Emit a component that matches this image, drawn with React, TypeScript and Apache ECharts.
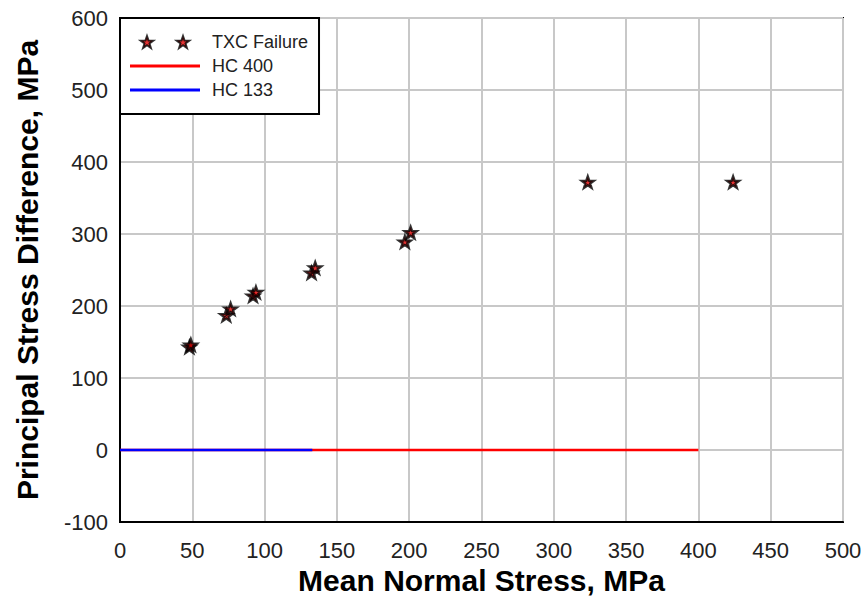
import React, { useEffect, useRef } from "react";
import * as echarts from "echarts";

const txcX = [48, 49, 73.5, 76.5, 92, 94, 132.5, 135, 197, 201, 323.5, 424];
const txcY = [143, 146, 187, 196, 214, 219, 246, 253, 289, 302, 372, 372];
const hc400X = [0, 400];
const hc400Y = [0, 0];
const hc133X = [0, 133];
const hc133Y = [0, 0];
const xTicks = { min: 0, max: 500, interval: 50 };
const yTicks = { min: -100, max: 600, interval: 100 };

const STAR =
  "M10,0 L12.35,6.76 L19.51,6.91 L13.8,11.24 L15.88,18.09 L10,14 L4.12,18.09 L6.2,11.24 L0.49,6.91 L7.65,6.76 Z";
const STAR2 =
  STAR +
  " M64.3,0 L66.65,6.76 L73.81,6.91 L68.1,11.24 L70.18,18.09 L64.3,14 L58.42,18.09 L60.5,11.24 L54.79,6.91 L61.95,6.76 Z";
const BAR = "path://M0,0 L70,0 L70,3 L0,3 Z";

export default function App() {
  const ref = useRef<HTMLDivElement>(null);
  useEffect(() => {
    if (!ref.current) return;
    const chart = echarts.init(ref.current, null, { renderer: "svg" });
    const font = "'Liberation Sans', Arial, sans-serif";
    chart.setOption({
      animation: false,
      backgroundColor: "#ffffff",
      textStyle: { fontFamily: font },
      grid: {
        left: 120,
        right: 22,
        top: 18,
        bottom: 74,
        containLabel: false,
        outerBoundsMode: "none",
        show: true,
        borderColor: "#000",
        borderWidth: 2,
        backgroundColor: "transparent",
      },
      legend: {
        left: 120,
        top: 18,
        orient: "vertical",
        backgroundColor: "#fff",
        borderColor: "#000",
        borderWidth: 2,
        padding: [15, 11, 15, 10],
        itemWidth: 70,
        itemHeight: 12,
        itemGap: 6,
        textStyle: { fontSize: 18, color: "#222", fontFamily: font, padding: [0, 0, 0, 7] },
        data: [
          { name: "TXC Failure", icon: "path://" + STAR2 },
          { name: "HC 400", icon: BAR, itemStyle: { color: "#ff0000", borderWidth: 0 } },
          { name: "HC 133", icon: BAR, itemStyle: { color: "#0000ff", borderWidth: 0 } },
        ],
      },
      xAxis: {
        type: "value",
        min: xTicks.min,
        max: xTicks.max,
        interval: xTicks.interval,
        name: "Mean Normal Stress, MPa",
        nameLocation: "middle",
        nameGap: 43,
        nameTextStyle: { fontSize: 30, lineHeight: 30, fontWeight: "bold", color: "#000", fontFamily: font },
        axisLine: { show: true, onZero: false, lineStyle: { color: "#000", width: 2 } },
        axisTick: { show: false },
        axisLabel: { fontSize: 22, color: "#222", margin: 17, fontFamily: font },
        splitLine: { show: true, lineStyle: { color: "#c8c8c8", width: 2 } },
      },
      yAxis: {
        type: "value",
        min: yTicks.min,
        max: yTicks.max,
        interval: yTicks.interval,
        name: "Principal Stress Difference, MPa",
        nameLocation: "middle",
        nameGap: 78,
        nameTextStyle: { fontSize: 30, lineHeight: 30, fontWeight: "bold", color: "#000", fontFamily: font },
        axisLine: { show: true, onZero: false, lineStyle: { color: "#000", width: 2 } },
        axisTick: { show: false },
        axisLabel: { fontSize: 22, color: "#222", margin: 12, fontFamily: font },
        splitLine: { show: true, lineStyle: { color: "#c8c8c8", width: 2 } },
      },
      series: [
        {
          name: "TXC Failure",
          type: "scatter",
          symbol: "path://" + STAR,
          symbolSize: 12,
          symbolKeepAspect: true,
          itemStyle: { color: "#e00000", borderColor: "#000", borderWidth: 2.4 },
          data: txcX.map((x, i) => [x, txcY[i]]),
          z: 5,
        },
        {
          name: "HC 400",
          type: "line",
          symbol: "none",
          color: "#ff0000",
          lineStyle: { color: "#ff0000", width: 2.5 },
          data: hc400X.map((x, i) => [x, hc400Y[i]]),
          z: 3,
        },
        {
          name: "HC 133",
          type: "line",
          symbol: "none",
          color: "#0000ff",
          lineStyle: { color: "#0000ff", width: 2.5 },
          data: hc133X.map((x, i) => [x, hc133Y[i]]),
          z: 4,
        },
      ],
    });
    return () => chart.dispose();
  }, []);
  return <div ref={ref} style={{ width: 865, height: 596, position: "absolute", left: 0, top: 0 }} />;
}
